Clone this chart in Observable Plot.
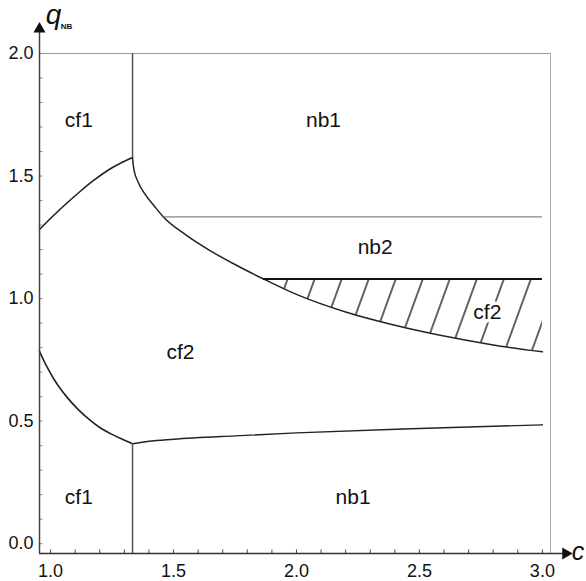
<!DOCTYPE html>
<html>
<head>
<meta charset="utf-8">
<script src="https://cdn.jsdelivr.net/npm/d3@7"></script>
<script src="https://cdn.jsdelivr.net/npm/@observablehq/plot@0.6"></script>
<style>
  body { margin: 0; background: #fff; }
  #chart svg { display: block; }
</style>
</head>
<body>
<div id="chart"></div>
<script>
// ---- data ----
const cMin = 0.955, cMax = 3.033, qMin = -0.04, qMax = 2.0;
const cStar = 4 / 3;          // vertical boundary
const qNb2 = 4 / 3;           // top of nb2 band
const qHatchTop = 1.08;       // top of hatched cf2 band
const cEnd = 3.0;
const nb2Start = 1.459;
const hatchStart = 1.866;
const xArrowTip = 3.095, yArrowTip = 2.10;

const upperLeft = [[0.955,1.282],[1.01,1.337],[1.069,1.392],[1.12,1.437],[1.175,1.482],[1.25,1.534],[1.333,1.576]];
const lowerLeft = [[0.955,0.785],[0.985,0.722],[1.012,0.674],[1.04,0.632],[1.069,0.595],[1.115,0.545],[1.163,0.502],[1.2,0.474],[1.244,0.449],[1.29,0.427],[1.333,0.408]];
const boundary = [[1.333,1.576],[1.339,1.526],[1.356,1.476],[1.384,1.426],[1.423,1.376],[1.459,1.333],[1.55,1.26],[1.65,1.195],[1.75,1.139],[1.866,1.080],[2.0,1.017],[2.2,0.945],[2.4,0.891],[2.6,0.847],[2.8,0.811],[3.0,0.783]];
const lowerRight = [[1.333,0.408],[1.4,0.418],[1.5,0.426],[1.75,0.44],[2.0,0.452],[2.5,0.47],[3.0,0.485]];

const regionLabels = ["cf1","nb1","nb2","cf2","cf2","cf1","nb1"];
const regionC = [1.115, 2.11, 2.32, 2.776, 1.528, 1.115, 2.23];
const regionQ = [1.727, 1.727, 1.208, 0.943, 0.78, 0.188, 0.188];

const xTicks = [1.0, 1.5, 2.0, 2.5, 3.0];
const xTickLabels = ["1.0", "1.5", "2.0", "2.5", "3.0"];
const yTicks = [0.0, 0.5, 1.0, 1.5, 2.0];
const yTickLabels = ["0.0", "0.5", "1.0", "1.5", "2.0"];
const xMinor = d3.range(10, 31).map(d => d / 10);
const yMinor = d3.range(0, 21).map(d => d / 10);

const hatchRegion = boundary.filter(d => d[0] >= hatchStart);
const labels = regionLabels.map((t, i) => ({t, c: regionC[i], q: regionQ[i]}));

const X = d => d[0], Y = d => d[1];

const plot = Plot.plot({
  width: 586, height: 581,
  marginLeft: 39, marginRight: 36, marginTop: 53, marginBottom: 28,
  x: {domain: [cMin, cMax], axis: null},
  y: {domain: [qMin, qMax], axis: null},
  style: {fontFamily: "'Liberation Sans', Arial, Helvetica, sans-serif", background: "#fff", color: "#111"},
  marks: [
    // hatched area
    Plot.areaY(hatchRegion, {x: X, y1: Y, y2: () => qHatchTop, fill: "url(#hatch)", curve: "monotone-x"}),
    // frame
    Plot.ruleY([qMax], {x1: cMin, x2: cMax, stroke: "#999", strokeWidth: 1}),
    Plot.ruleX([cMax], {y1: qMin, y2: qMax, stroke: "#aaa", strokeWidth: 1}),
    // boundaries
    Plot.line(upperLeft, {x: X, y: Y, stroke: "#222", strokeWidth: 1.6, curve: "monotone-x"}),
    Plot.line(lowerLeft, {x: X, y: Y, stroke: "#222", strokeWidth: 1.6, curve: "monotone-x"}),
    Plot.line(boundary, {x: X, y: Y, stroke: "#222", strokeWidth: 1.5, curve: "monotone-x"}),
    Plot.line(lowerRight, {x: X, y: Y, stroke: "#222", strokeWidth: 1.4, curve: "monotone-x"}),
    Plot.ruleX([cStar], {y1: qMax, y2: upperLeft[upperLeft.length - 1][1], stroke: "#555", strokeWidth: 1.5}),
    Plot.ruleX([cStar], {y1: qMin, y2: lowerLeft[lowerLeft.length - 1][1], stroke: "#555", strokeWidth: 1.5}),
    Plot.ruleY([qNb2], {x1: nb2Start, x2: cEnd, stroke: "#666", strokeWidth: 1}),
    Plot.ruleY([qHatchTop], {x1: hatchStart, x2: cEnd, stroke: "#111", strokeWidth: 2}),
    // axes
    Plot.ruleX(xMinor, {y1: qMin, y2: qMin + 0.014, stroke: "#444", strokeWidth: 1}),
    Plot.ruleY(yMinor, {x1: cMin, x2: cMin + 0.014, stroke: "#888", strokeWidth: 1}),
    Plot.ruleY([qMin], {x1: cMin, x2: xArrowTip, stroke: "#333", strokeWidth: 1.5}),
    Plot.ruleX([cMin], {y1: qMin, y2: yArrowTip, stroke: "#444", strokeWidth: 1.5}),
    Plot.dot([0], {x: xArrowTip, y: qMin, symbol: "triangle", r: 4.5, fill: "#111", rotate: 90}),
    Plot.dot([0], {x: cMin, y: yArrowTip, symbol: "triangle", r: 4.5, fill: "#111"}),
    Plot.text(xTicks, {x: d => d, y: qMin, dy: 18, text: (d, i) => xTickLabels[i], fontSize: 18, fill: "#111"}),
    Plot.text(yTicks, {x: cMin, y: d => d, dx: -6, text: (d, i) => yTickLabels[i], textAnchor: "end", fontSize: 18, fill: "#111"}),
    Plot.text(["q"], {x: cMin, y: qMax, dx: 14, dy: -38, text: d => d, fontSize: 28, fontStyle: "italic", fill: "#111"}),
    Plot.text(["NB"], {x: cMin, y: qMax, dx: 27, dy: -27, text: d => d, fontSize: 8, fontWeight: "bold", fill: "#111"}),
    Plot.text(["c"], {x: xArrowTip, y: qMin, dx: 6, dy: -2, text: d => d, textAnchor: "start", fontSize: 25, fontStyle: "italic", fill: "#111"}),
    // region labels
    Plot.text(labels, {x: "c", y: "q", text: "t", fontSize: 21, fill: "#111", stroke: "#fff", strokeWidth: 7})
  ]
});

// hatch pattern definition
const svg = d3.select(plot);
const defs = svg.insert("defs", ":first-child");
const pat = defs.append("pattern")
  .attr("id", "hatch")
  .attr("patternUnits", "userSpaceOnUse")
  .attr("width", 25.4).attr("height", 20)
  .attr("patternTransform", "rotate(20) translate(-2.6,0)");
pat.append("line").attr("x1", 12.7).attr("x2", 12.7).attr("y1", -1).attr("y2", 21)
  .attr("stroke", "#111").attr("stroke-width", 1.3);

document.getElementById("chart").appendChild(plot);
</script>
</body>
</html>
